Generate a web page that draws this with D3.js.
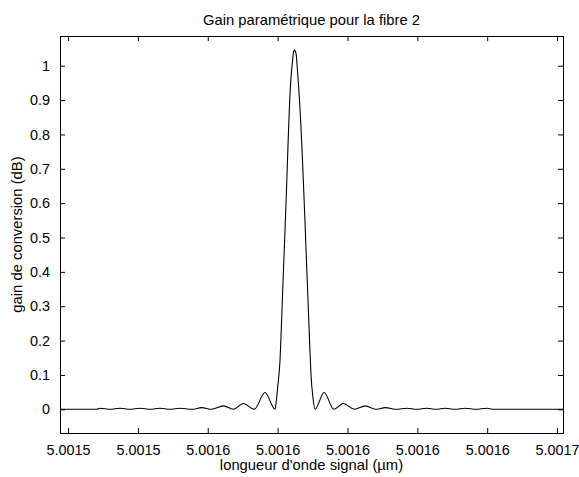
<!DOCTYPE html>
<html>
<head>
<meta charset="utf-8">
<script src="https://cdn.jsdelivr.net/npm/d3@7"></script>
<style>
  html, body { margin: 0; padding: 0; background: #fff; }
  svg { display: block; }
  text { font-family: "Liberation Sans", Arial, sans-serif; fill: #000; }
</style>
</head>
<body>
<svg id="chart" width="579" height="477"></svg>
<script>
// Signal wavelength (µm) and conversion gain (dB) along the sweep
const wavelength = [
  5.0015227, 5.0015332, 5.0015342, 5.0015370, 5.0015399, 5.0015427, 5.0015456,
  5.0015485, 5.0015513, 5.0015542, 5.0015571, 5.0015604, 5.0015633, 5.0015661,
  5.0015695, 5.0015723, 5.0015752, 5.0015783, 5.0015814, 5.00158427, 5.00158463,
  5.00158503, 5.00158569, 5.00158617, 5.00158663, 5.00158712, 5.00158758, 5.00158798,
  5.00158835, 5.00158875, 5.00158921, 5.00158955, 5.00158978,
  5.00159027, 5.00159075, 5.00159121, 5.00159161, 5.00159199, 5.00159241, 5.00159284,
  5.00159327, 5.00159370, 5.00159413, 5.00159456, 5.00159513, 5.00159571,
  5.0015983, 5.0016011, 5.0016038, 5.0016070, 5.0016101, 5.0016130, 5.0016159,
  5.0016190, 5.0016220, 5.0016248, 5.0016277, 5.0016304, 5.0016329, 5.0016358,
  5.0016387, 5.0016418, 5.0016449, 5.0016467, 5.0016667
];
const gain = [
  0, 0, 0.003, 0, 0.003, 0, 0.003,
  0, 0.003, 0, 0.003, 0, 0.005, 0,
  0.010, 0, 0.017, 0, 0.049, 0, 0.024,
  0.066, 0.143, 0.266, 0.394, 0.522, 0.650, 0.770,
  0.871, 0.953, 1.008, 1.040, 1.046,
  1.036, 0.976, 0.909, 0.836, 0.755, 0.653, 0.545,
  0.429, 0.318, 0.202, 0.100, 0.033, 0,
  0.049, 0, 0.017, 0, 0.010, 0, 0.005,
  0, 0.003, 0, 0.003, 0, 0.003, 0,
  0.003, 0, 0.003, 0, 0
];

// Axis ticks and their printed labels
const xTickValues = [5.001525, 5.001545, 5.001565, 5.001585, 5.001605, 5.001625, 5.001645, 5.001665];
const xTickLabels = ["5.0015", "5.0015", "5.0016", "5.0016", "5.0016", "5.0016", "5.0016", "5.0017"];
const yTickValues = [0, 0.1, 0.2, 0.3, 0.4, 0.5, 0.6, 0.7, 0.8, 0.9, 1];
const yTickLabels = ["0", "0.1", "0.2", "0.3", "0.4", "0.5", "0.6", "0.7", "0.8", "0.9", "1"];

const xDomain = [5.0015227, 5.0016667];
const yDomain = [-0.069, 1.0865];

const titleText = "Gain paramétrique pour la fibre 2";
const xLabelText = "longueur d'onde signal (µm)";
const yLabelText = "gain de conversion (dB)";

const W = 579, H = 477;
const margin = { left: 60, right: 16, top: 36, bottom: 44 };
const x0 = margin.left, x1 = W - margin.right;
const y0 = margin.top, y1 = H - margin.bottom;

const svg = d3.select("#chart");
const tickFont = 14.4;
const labelFont = 14.8;
const tickLen = 5;

const x = d3.scaleLinear().domain(xDomain).range([x0, x1]);
const y = d3.scaleLinear().domain(yDomain).range([y1, y0]);

// Curve
const pts = wavelength.map((w, i) => [w, gain[i]]);
const line = d3.line()
  .x(d => x(d[0]))
  .y(d => y(d[1]))
  .curve(d3.curveMonotoneX);

svg.append("path")
  .datum(pts)
  .attr("d", line)
  .attr("fill", "none")
  .attr("stroke", "#000")
  .attr("stroke-width", 1.1)
  .attr("stroke-linejoin", "round");

// Axes: ticks point inward, mirrored on the opposite sides of the box
const fmtX = (d, i) => xTickLabels[i];
const fmtY = (d, i) => yTickLabels[i];

const bottomAxis = d3.axisBottom(x).tickValues(xTickValues).tickFormat(fmtX)
  .tickSizeInner(-tickLen).tickSizeOuter(0).tickPadding(12);
const topAxis = d3.axisTop(x).tickValues(xTickValues).tickFormat("")
  .tickSizeInner(-tickLen).tickSizeOuter(0);
const leftAxis = d3.axisLeft(y).tickValues(yTickValues).tickFormat(fmtY)
  .tickSizeInner(-tickLen).tickSizeOuter(0).tickPadding(10);
const rightAxis = d3.axisRight(y).tickValues(yTickValues).tickFormat("")
  .tickSizeInner(-tickLen).tickSizeOuter(0);

function style(g) {
  g.select(".domain").remove();
  g.selectAll(".tick line").attr("stroke", "#000").attr("stroke-width", 1);
  g.selectAll(".tick text")
    .attr("font-family", "Liberation Sans, Arial, sans-serif")
    .attr("font-size", tickFont)
    .attr("fill", "#000");
}

svg.append("g").attr("transform", `translate(0,${y1})`).call(bottomAxis).call(style);
svg.append("g").attr("transform", `translate(0,${y0})`).call(topAxis).call(style);
svg.append("g").attr("transform", `translate(${x0},0)`).call(leftAxis).call(style);
svg.append("g").attr("transform", `translate(${x1},0)`).call(rightAxis).call(style);

// Box
svg.append("rect")
  .attr("x", x0 + 0.5).attr("y", y0 + 0.5)
  .attr("width", x1 - x0).attr("height", y1 - y0)
  .attr("fill", "none").attr("stroke", "#000").attr("stroke-width", 1);

// Title and axis labels
svg.append("text")
  .attr("x", (x0 + x1) / 2).attr("y", 25)
  .attr("text-anchor", "middle")
  .attr("font-size", labelFont)
  .text(titleText);

svg.append("text")
  .attr("x", (x0 + x1) / 2).attr("y", 470)
  .attr("text-anchor", "middle")
  .attr("font-size", labelFont)
  .text(xLabelText);

svg.append("text")
  .attr("transform", `translate(22,${(y0 + y1) / 2}) rotate(-90)`)
  .attr("text-anchor", "middle")
  .attr("font-size", labelFont)
  .text(yLabelText);
</script>
</body>
</html>
